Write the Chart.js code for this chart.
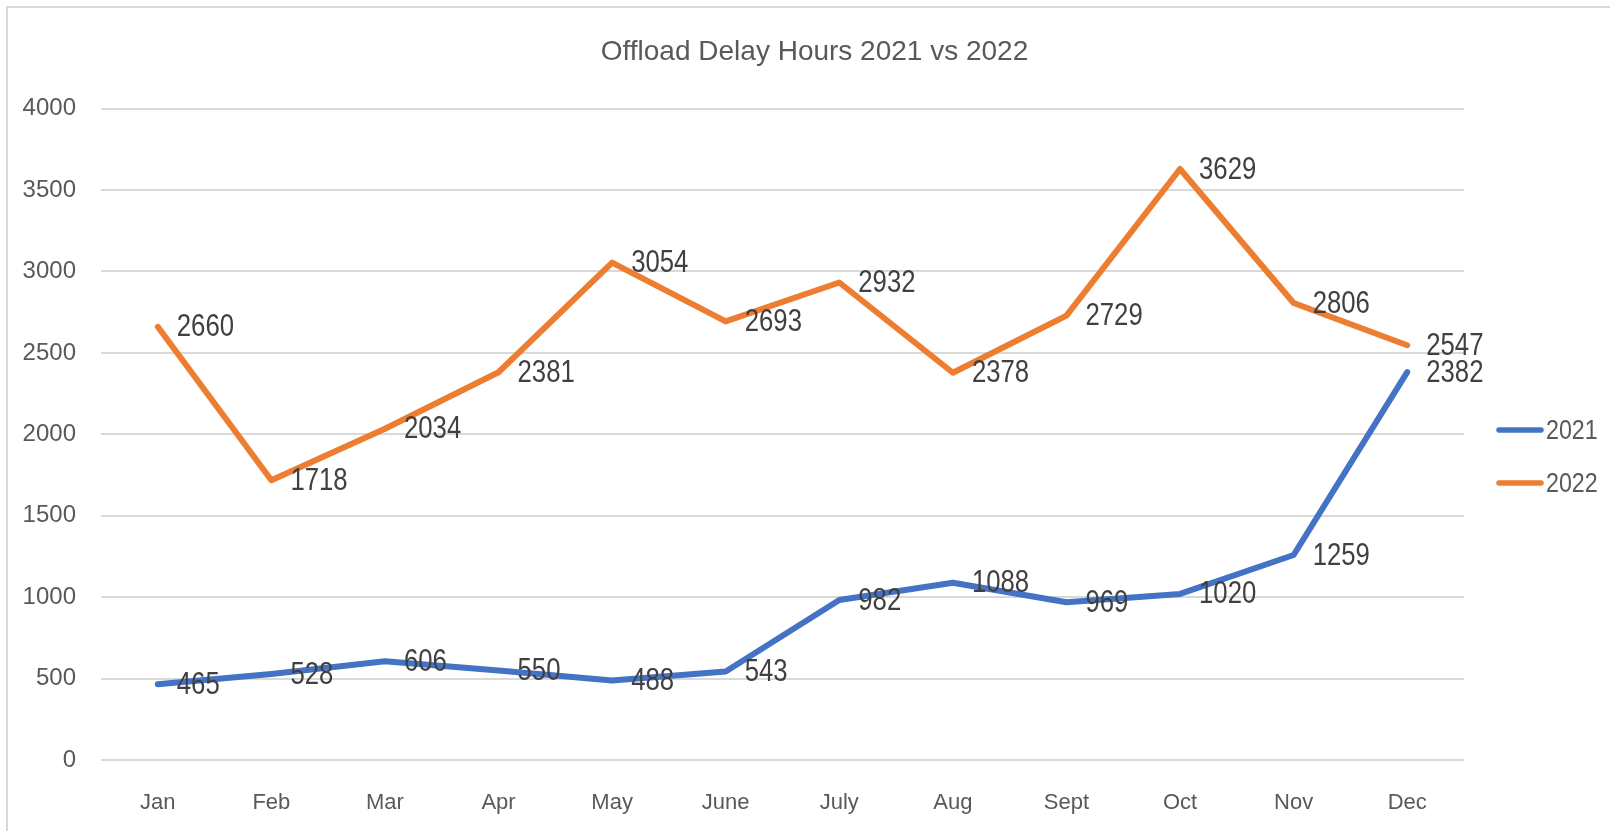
<!DOCTYPE html>
<html>
<head>
<meta charset="utf-8">
<title>Offload Delay Hours 2021 vs 2022</title>
<script src="https://cdn.jsdelivr.net/npm/chart.js"></script>
<style>
  html, body { margin: 0; padding: 0; background: #ffffff; overflow: hidden; }
  .wrap { position: relative; width: 1610px; height: 831px; }
  .frame { position: absolute; left: 6px; top: 6px; width: 1700px; height: 1000px; border: 2px solid #d9d9d9; box-sizing: border-box; }
  canvas { position: absolute; left: 0; top: 0; }
</style>
</head>
<body>
<div class="wrap">
  <div class="frame"></div>
  <canvas class="delayCanvas"></canvas>
</div>
<script>
var months = ["Jan", "Feb", "Mar", "Apr", "May", "June", "July", "Aug", "Sept", "Oct", "Nov", "Dec"];
var hours2021 = [465, 528, 606, 550, 488, 543, 982, 1088, 969, 1020, 1259, 2382];
var hours2022 = [2660, 1718, 2034, 2381, 3054, 2693, 2932, 2378, 2729, 3629, 2806, 2547];
var yTicks = [0, 500, 1000, 1500, 2000, 2500, 3000, 3500, 4000];

var sans = '"Liberation Sans", Arial, sans-serif';
var greyText = '#595959';
var squeeze = 0.83; // the picture's text is narrow, squeeze it sideways

// numbers printed to the right of every point
var valueLabels = {
    id: 'valueLabels',
    afterDatasetsDraw: function(chart) {
        var c = chart.ctx;
        c.save();
        c.font = '31px ' + sans;
        c.fillStyle = '#404040';
        c.textAlign = 'left';
        c.textBaseline = 'middle';
        for (var i = 0; i < chart.data.datasets.length; i++) {
            var points = chart.getDatasetMeta(i).data;
            for (var j = 0; j < points.length; j++) {
                c.save();
                c.translate(points[j].x + 19, points[j].y + 1);
                c.scale(squeeze, 1);
                c.fillText(chart.data.datasets[i].data[j], 0, 0);
                c.restore();
            }
        }
        c.restore();
    }
};

// legend drawn in the space kept free by the hidden right axis
var sideLegend = {
    id: 'sideLegend',
    afterDraw: function(chart) {
        var c = chart.ctx;
        var x = chart.chartArea.right + 33;
        c.save();
        c.font = '28px ' + sans;
        c.textAlign = 'left';
        c.textBaseline = 'middle';
        c.lineCap = 'round';
        for (var i = 0; i < chart.data.datasets.length; i++) {
            var y = 430 + i * 53;
            var ds = chart.data.datasets[i];
            c.strokeStyle = ds.borderColor;
            c.lineWidth = 5.5;
            c.beginPath();
            c.moveTo(x + 2, y);
            c.lineTo(x + 44, y);
            c.stroke();
            c.save();
            c.translate(x + 49, y + 1);
            c.scale(squeeze, 1);
            c.fillStyle = greyText;
            c.fillText(ds.label, 0, 0);
            c.restore();
        }
        c.restore();
    }
};

let ctx = document.querySelector(".delayCanvas");
let lineChart = new Chart(ctx, {
    type: 'line',
    data: {
        labels: months,
        datasets: [{
            label: "2021",
            data: hours2021,
            borderColor: '#4472C4',
            backgroundColor: '#4472C4',
            borderWidth: 6,
            borderJoinStyle: 'round',
            borderCapStyle: 'round',
            pointRadius: 0,
            tension: 0
        },
        {
            label: "2022",
            data: hours2022,
            borderColor: '#ED7D31',
            backgroundColor: '#ED7D31',
            borderWidth: 6,
            borderJoinStyle: 'round',
            borderCapStyle: 'round',
            pointRadius: 0,
            tension: 0
        }]
    },
    options: {
        responsive: true,
        maintainAspectRatio: false,
        animation: false,
        layout: {
            autoPadding: false,
            padding: { left: 19, right: 0, top: 10, bottom: 0 }
        },
        plugins: {
            legend: { display: false },
            tooltip: { enabled: false },
            title: {
                display: true,
                text: "Offload Delay Hours 2021 vs 2022",
                color: greyText,
                font: { family: sans, size: 28, weight: 'normal' },
                padding: { top: 25, bottom: 40 }
            }
        },
        scales: {
            x: {
                offset: true,
                grid: { display: false, drawTicks: false },
                border: { display: false },
                ticks: {
                    color: greyText,
                    font: { family: sans, size: 22 },
                    padding: 30,
                    maxRotation: 0,
                    autoSkip: false
                },
                afterFit: function(axis) { axis.height = 71; }
            },
            y: {
                min: 0,
                max: 4000,
                grid: { color: '#d9d9d9', lineWidth: 2, drawTicks: false },
                border: { display: false },
                afterBuildTicks: function(axis) {
                    axis.ticks = yTicks.map(function(v) { return { value: v }; });
                },
                ticks: {
                    color: greyText,
                    font: { family: sans, size: 24 },
                    padding: 25,
                    callback: function(value) { return String(value); }
                },
                afterFit: function(axis) { axis.width = 82; }
            },
            legendSpace: {
                type: 'linear',
                position: 'right',
                grid: { display: false, drawTicks: false },
                border: { display: false },
                ticks: { display: false },
                afterFit: function(axis) { axis.width = 146; }
            }
        }
    },
    plugins: [valueLabels, sideLegend]
});
</script>
</body>
</html>
